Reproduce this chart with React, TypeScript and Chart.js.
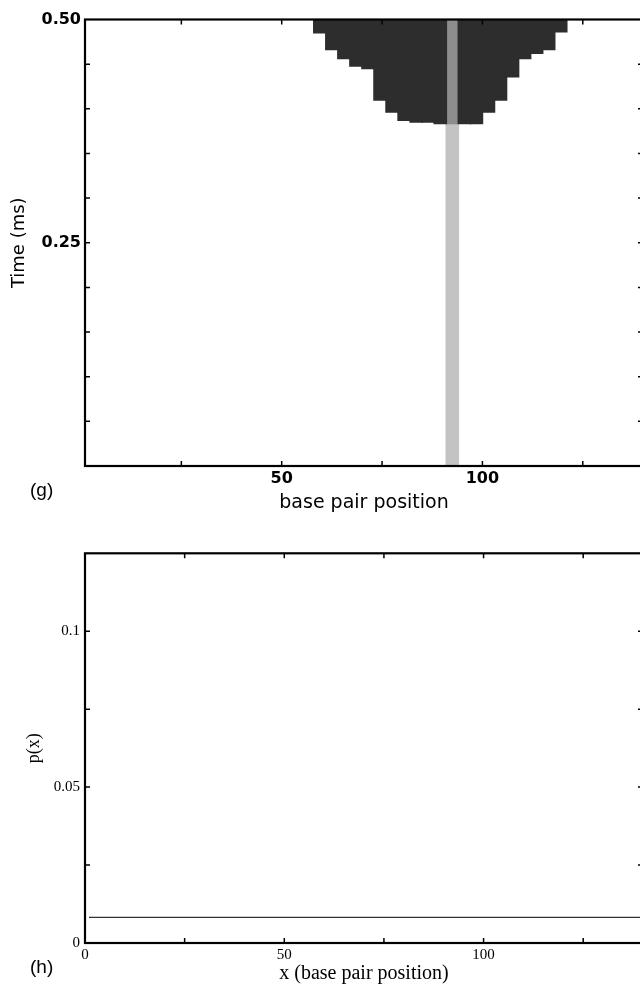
import React, { useEffect, useRef } from 'react';
import { Chart, registerables } from 'chart.js';

Chart.register(...registerables);

// ---------- panel (g): opening time map ----------
// 3-bp wide columns (centre position) and the time (ms) at which each column opens
const cellCenters = [59.5, 62.5, 65.5, 68.5, 71.5, 74.5, 77.5, 80.5, 83.5, 86.5, 89.5, 95.5, 98.5, 101.5, 104.5, 107.5, 110.5, 113.5, 116.5, 119.5];
const openTimes = [0.4852, 0.4666, 0.4565, 0.4479, 0.4453, 0.4098, 0.3966, 0.3873, 0.3854, 0.3854, 0.3836, 0.3836, 0.3836, 0.3966, 0.4098, 0.4359, 0.4565, 0.4624, 0.4666, 0.4863];
const stripCenter = 92.5;
const stripTop = 0.3836;
const timeMax = 0.5;
const gXTicks = [25, 50, 75, 100, 125];
const gXLabels = ['', '50', '', '100', ''];
const gYTicks = [0, 0.05, 0.1, 0.15, 0.2, 0.25, 0.3, 0.35, 0.4, 0.45, 0.5];
const gYLabels = ['', '', '', '', '', '0.25', '', '', '', '', '0.50'];

// ---------- panel (h): p(x) ----------
const hX = [1, 150];
const hP = [0.0082, 0.0082];
const hXTicks = [0, 25, 50, 75, 100, 125];
const hXLabels = ['0', '', '50', '', '100', ''];
const hYTicks = [0, 0.025, 0.05, 0.075, 0.1];
const hYLabels = ['0', '', '0.05', '', '0.1'];

const fixedTicks = (values: number[]) => (scale: any) => {
  scale.ticks = values.map((v) => ({ value: v }));
};

const framePlugin = {
  id: 'frame',
  afterDraw(chart: any) {
    const { ctx, chartArea: a, scales } = chart;
    const xs = scales.x;
    const ys = scales.y;
    const tl = 5;
    ctx.save();
    ctx.strokeStyle = '#000';
    ctx.lineWidth = 1.5;
    ctx.beginPath();
    xs.ticks.forEach((t: any) => {
      if (t.value <= xs.min || t.value >= xs.max) return;
      const px = xs.getPixelForValue(t.value);
      ctx.moveTo(px, a.bottom);
      ctx.lineTo(px, a.bottom - tl);
      ctx.moveTo(px, a.top);
      ctx.lineTo(px, a.top + tl);
    });
    ys.ticks.forEach((t: any) => {
      if (t.value <= ys.min || t.value >= ys.max) return;
      const py = ys.getPixelForValue(t.value);
      ctx.moveTo(a.left, py);
      ctx.lineTo(a.left + tl, py);
      ctx.moveTo(a.right, py);
      ctx.lineTo(a.right - tl, py);
    });
    ctx.stroke();
    ctx.lineWidth = 2.2;
    ctx.strokeRect(a.left, a.top, a.right - a.left, a.bottom - a.top);
    ctx.restore();
  },
};

const W = 660;
const H1 = 520;
const H2 = 466;

export default function App() {
  const ref1 = useRef<HTMLCanvasElement | null>(null);
  const ref2 = useRef<HTMLCanvasElement | null>(null);

  useEffect(() => {
    const sansTick = { family: 'DejaVu Sans', size: 16, weight: 'bold' as const };
    const serifTick = { family: 'Liberation Serif', size: 15 };
    const barCommon = {
      grouped: false,
      barPercentage: 1,
      categoryPercentage: 1,
      borderWidth: 0,
      inflateAmount: 0.8,
    };

    const c1 = new Chart(ref1.current!, {
      type: 'bar',
      data: {
        datasets: [
          {
            ...barCommon,
            label: 'open',
            data: cellCenters.map((x, i) => ({ x, y: [openTimes[i], timeMax] })) as any,
            backgroundColor: '#2d2d2d',
          },
          {
            ...barCommon,
            label: 'strip-upper',
            data: [{ x: stripCenter, y: [stripTop, timeMax] }] as any,
            backgroundColor: '#8d8d8d',
          },
          {
            ...barCommon,
            label: 'strip-lower',
            data: [{ x: stripCenter, y: [0, stripTop] }] as any,
            backgroundColor: '#c3c3c3',
          },
        ],
      } as any,
      options: {
        responsive: false,
        animation: false,
        layout: { padding: { top: 19.5, right: W - 643, bottom: 0, left: 0 } },
        plugins: { legend: { display: false }, tooltip: { enabled: false } },
        scales: {
          x: {
            type: 'linear',
            min: 1,
            max: 140,
            offset: false,
            grid: { display: false, drawTicks: false },
            border: { display: false },
            afterBuildTicks: fixedTicks(gXTicks),
            afterFit: (s: any) => {
              s.height = H1 - 466;
            },
            ticks: {
              autoSkip: false,
              maxRotation: 0,
              padding: 3,
              color: '#000',
              font: sansTick,
              callback: (_v: any, i: number) => gXLabels[i],
            },
            title: {
              display: true,
              text: 'base pair position',
              color: '#000',
              font: { family: 'DejaVu Sans', size: 19 },
              padding: { top: 0, bottom: 6 },
            },
          },
          y: {
            min: 0,
            max: 0.5,
            grid: { display: false, drawTicks: false },
            border: { display: false },
            afterBuildTicks: fixedTicks(gYTicks),
            afterFit: (s: any) => {
              s.width = 85;
            },
            ticks: {
              autoSkip: false,
              padding: 4,
              color: '#000',
              font: sansTick,
              callback: (_v: any, i: number) => gYLabels[i],
            },
            title: {
              display: true,
              text: 'Time (ms)',
              color: '#000',
              font: { family: 'DejaVu Sans', size: 18 },
              padding: { top: 9, bottom: 0 },
            },
          },
        },
      } as any,
      plugins: [framePlugin],
    });

    const c2 = new Chart(ref2.current!, {
      type: 'line',
      data: {
        datasets: [
          {
            label: 'p(x)',
            data: hX.map((x, i) => ({ x, y: hP[i] })),
            borderColor: '#333',
            borderWidth: 1.3,
            pointRadius: 0,
            fill: false,
          },
        ],
      },
      options: {
        responsive: false,
        animation: false,
        layout: { padding: { top: 33.3, right: W - 643, bottom: 0, left: 0 } },
        plugins: { legend: { display: false }, tooltip: { enabled: false } },
        scales: {
          x: {
            type: 'linear',
            min: 0,
            max: 140,
            grid: { display: false, drawTicks: false },
            border: { display: false },
            afterBuildTicks: fixedTicks(hXTicks),
            afterFit: (s: any) => {
              s.height = 986 - 520 - 423;
            },
            ticks: {
              autoSkip: false,
              maxRotation: 0,
              padding: 3,
              color: '#000',
              font: serifTick,
              callback: (_v: any, i: number) => hXLabels[i],
            },
            title: {
              display: true,
              text: 'x (base pair position)',
              color: '#000',
              font: { family: 'Liberation Serif', size: 20 },
              padding: { top: 0, bottom: 0 },
            },
          },
          y: {
            min: 0,
            max: 0.125,
            grid: { display: false, drawTicks: false },
            border: { display: false },
            afterBuildTicks: fixedTicks(hYTicks),
            afterFit: (s: any) => {
              s.width = 85;
            },
            ticks: {
              autoSkip: false,
              padding: 5,
              color: '#000',
              font: serifTick,
              callback: (_v: any, i: number) => hYLabels[i],
            },
            title: {
              display: true,
              text: 'p(x)',
              color: '#000',
              font: { family: 'Liberation Serif', size: 18 },
              padding: { top: 23, bottom: 0 },
            },
          },
        },
      } as any,
      plugins: [framePlugin],
    });

    return () => {
      c1.destroy();
      c2.destroy();
    };
  }, []);

  const panelLabel: React.CSSProperties = {
    position: 'absolute',
    fontFamily: '"Liberation Sans", Arial, sans-serif',
    fontSize: 19,
    lineHeight: '19px',
    color: '#000',
  };

  return (
    <div
      style={{
        position: 'fixed',
        left: 0,
        top: 0,
        width: 640,
        height: 986,
        overflow: 'hidden',
        background: '#fff',
      }}
    >
      <canvas
        ref={ref1}
        width={W}
        height={H1}
        style={{ position: 'absolute', left: 0, top: 0, width: W, height: H1 }}
      />
      <canvas
        ref={ref2}
        width={W}
        height={H2}
        style={{ position: 'absolute', left: 0, top: 520, width: W, height: H2 }}
      />
      <div style={{ ...panelLabel, left: 30, top: 480 }}>(g)</div>
      <div style={{ ...panelLabel, left: 30, top: 957 }}>(h)</div>
    </div>
  );
}
